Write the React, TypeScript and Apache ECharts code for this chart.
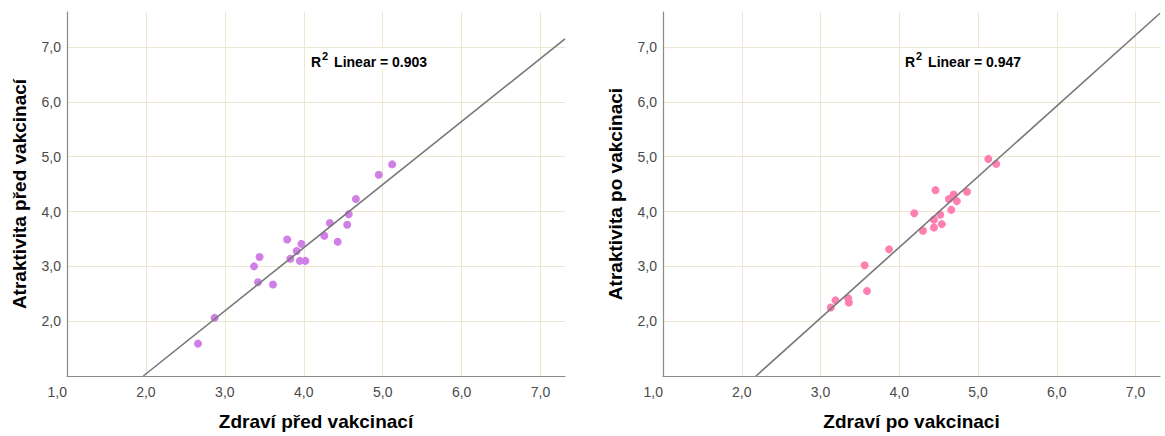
import React, { useEffect, useRef } from "react";
import * as echarts from "echarts";

// Left panel: Zdraví před vakcinací (x) vs Atraktivita před vakcinací (y)
const preX = [2.66, 2.87, 3.37, 3.44, 3.42, 3.61, 3.79, 3.83, 3.91, 3.97, 3.95, 4.02, 4.26, 4.33, 4.43, 4.55, 4.57, 4.66, 4.95, 5.12];
const preY = [1.59, 2.06, 3.0, 3.17, 2.71, 2.67, 3.49, 3.14, 3.28, 3.41, 3.1, 3.1, 3.56, 3.79, 3.45, 3.76, 3.95, 4.23, 4.67, 4.86];
// Right panel: Zdraví po vakcinaci (x) vs Atraktivita po vakcinaci (y)
const postX = [3.13, 3.19, 3.35, 3.36, 3.59, 3.56, 3.87, 4.19, 4.3, 4.44, 4.44, 4.46, 4.52, 4.54, 4.63, 4.69, 4.73, 4.66, 4.86, 5.13, 5.23];
const postY = [2.25, 2.38, 2.42, 2.34, 2.55, 3.02, 3.31, 3.97, 3.65, 3.85, 3.71, 4.39, 3.94, 3.77, 4.23, 4.31, 4.19, 4.03, 4.36, 4.96, 4.87];

// Linear fit lines (slope, intercept) and R²
const preFit = { slope: 1.151, intercept: -1.264, r2: "0.903" };
const postFit = { slope: 1.29, intercept: -1.813, r2: "0.947" };

const xTitles = ["Zdraví před vakcinací", "Zdraví po vakcinaci"];
const yTitles = ["Atraktivita před vakcinací", "Atraktivita po vakcinaci"];
const pointColors = ["#cf7fe6", "#ff7fb0"];

const X_MIN = 1;
const X_MAX = 7.31;
const Y_MIN = 1;
const Y_MAX = 7.64;

const fmt = (v: number) => v.toFixed(1).replace(".", ",");

function fitLine(f: { slope: number; intercept: number }) {
  const x0 = (Y_MIN - f.intercept) / f.slope;
  const x1 = X_MAX;
  return [
    [x0, Y_MIN],
    [x1, f.slope * x1 + f.intercept],
  ];
}

export default function App() {
  const ref = useRef<HTMLDivElement>(null);
  useEffect(() => {
    if (!ref.current) return;
    const chart = echarts.init(ref.current, undefined, { renderer: "svg" });
    const font = "'Liberation Sans', Arial, sans-serif";
    const axisCommon = (i: number, isX: boolean) => ({
      type: "value",
      gridIndex: i,
      min: isX ? X_MIN : Y_MIN,
      max: isX ? X_MAX : Y_MAX,
      interval: 1,
      name: isX ? xTitles[i] : yTitles[i],
      nameLocation: "middle",
      nameGap: isX ? 36 : 38,
      nameTextStyle: { fontFamily: font, fontSize: 19, fontWeight: "bold", color: "#000" },
      axisLine: { show: true, lineStyle: { color: "#8a8a8a", width: 1.2 } },
      axisTick: { show: false },
      axisLabel: {
        fontFamily: font,
        fontSize: 14,
        color: "#4a4a4a",
        margin: isX ? 9 : 6,
        showMaxLabel: false,
        showMinLabel: isX,
        alignMinLabel: isX ? "right" : undefined,
        formatter: (v: number) => fmt(v),
      },
      splitLine: { show: true, showMaxLine: false, lineStyle: { color: "#ede7d0", width: 1 } },
    });

    const sets = [
      { xs: preX, ys: preY, fit: preFit },
      { xs: postX, ys: postY, fit: postFit },
    ];

    const series: any[] = [];
    sets.forEach((s, i) => {
      series.push({
        type: "line",
        xAxisIndex: i,
        yAxisIndex: i,
        data: fitLine(s.fit),
        symbol: "none",
        lineStyle: { color: "#777", width: 1.6 },
        silent: true,
        z: 3,
      });
      series.push({
        type: "scatter",
        xAxisIndex: i,
        yAxisIndex: i,
        data: s.xs.map((x, k) => [x, s.ys[k]]),
        symbolSize: 8,
        itemStyle: { color: pointColors[i], opacity: 1 },
        z: 2,
      });
    });

    const r2Text = (r2: string, left: number) => ({
      type: "text",
      left,
      top: 49,
      z: 10,
      style: {
        text: "{a|R}{b|2}{a| Linear = " + r2 + "}",
        backgroundColor: "#fff",
        padding: [1, 3, 1, 3],
        rich: {
          a: { fontFamily: font, fontSize: 14, fontWeight: "bold", fill: "#000", lineHeight: 19, verticalAlign: "bottom" },
          b: { fontFamily: font, fontSize: 11, fontWeight: "bold", fill: "#000", lineHeight: 19, verticalAlign: "top", padding: [0, 2, 0, 1] },
        },
      },
    });

    chart.setOption({
      animation: false,
      grid: [
        { left: 67, right: 600, top: 12, bottom: 60 },
        { left: 663, right: 5, top: 12, bottom: 60 },
      ],
      xAxis: [axisCommon(0, true), axisCommon(1, true)],
      yAxis: [axisCommon(0, false), axisCommon(1, false)],
      series,
      graphic: [r2Text(sets[0].fit.r2, 308), r2Text(sets[1].fit.r2, 902)],
    });
    return () => chart.dispose();
  }, []);
  return (
    <div
      ref={ref}
      style={{ position: "fixed", left: 0, top: 0, width: 1165, height: 436, background: "#fff" }}
    />
  );
}
